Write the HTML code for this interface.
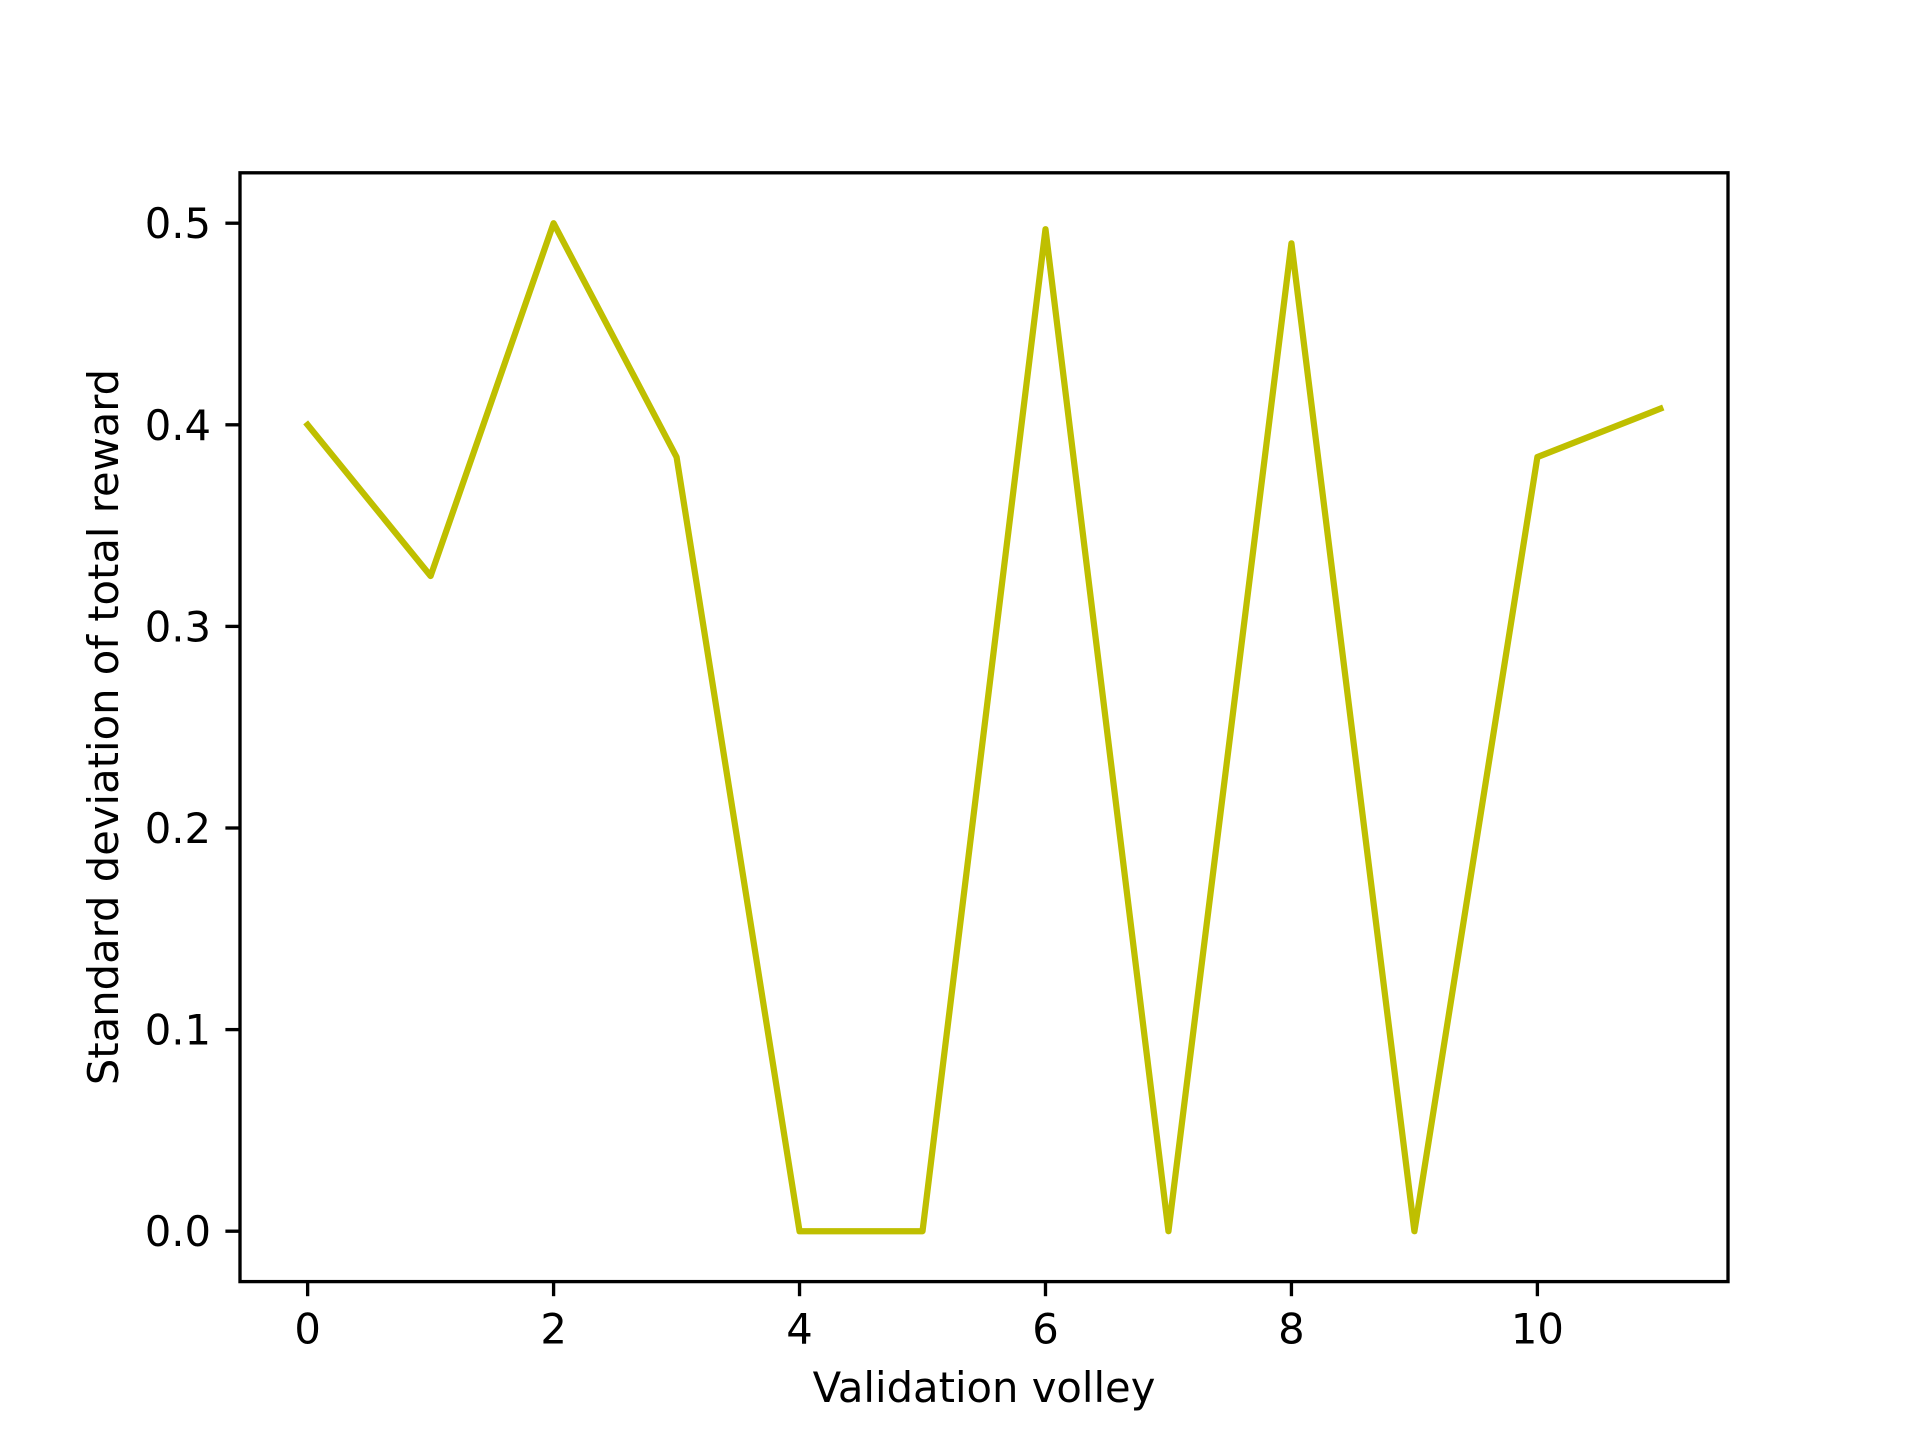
<!DOCTYPE html>
<html><head><meta charset="utf-8"><style>
html,body{margin:0;padding:0;background:#fff;}
svg{display:block;font-family:"DejaVu Sans","Liberation Sans",sans-serif;}
</style></head><body>
<svg id="chart" width="1920" height="1440" viewBox="0 0 1920 1440">
<rect x="0" y="0" width="1920" height="1440" fill="#fff"/>
<g id="ticks"></g>
<polyline id="series" fill="none" stroke="#bfbf00" stroke-width="6.25" stroke-linejoin="round" stroke-linecap="square"/>
<rect x="240" y="172.8" width="1488" height="1108.8" fill="none" stroke="#000" stroke-width="3.33"/>
<text x="984" y="1402" font-size="41.7" text-anchor="middle">Validation volley</text>
<text transform="translate(118,727) rotate(-90)" font-size="41.7" text-anchor="middle">Standard deviation of total reward</text>
</svg>
<script>
const volleys = [0,1,2,3,4,5,6,7,8,9,10,11];
const stdValues = [0.4,0.325,0.5,0.384,0,0,0.497,0,0.49,0,0.384,0.408];
const xTicks = [0,2,4,6,8,10];
const yTicks = [0,0.1,0.2,0.3,0.4,0.5];
const yTickLabels = ["0.0","0.1","0.2","0.3","0.4","0.5"];

const L=240,R=1728,T=172.8,B=1281.6;
const xMin=-0.55,xMax=11.55,yMin=-0.025,yMax=0.525;
function sx(v){return L+(v-xMin)/(xMax-xMin)*(R-L);}
function sy(v){return B-(v-yMin)/(yMax-yMin)*(B-T);}
const NS="http://www.w3.org/2000/svg";
const g=document.getElementById('ticks');
xTicks.forEach(t=>{
  const l=document.createElementNS(NS,'line');
  l.setAttribute('x1',sx(t));l.setAttribute('x2',sx(t));l.setAttribute('y1',B);l.setAttribute('y2',B+14.6);
  l.setAttribute('stroke','#000');l.setAttribute('stroke-width','3.33');
  
  
  g.appendChild(l);
  const tx=document.createElementNS(NS,'text');
  tx.setAttribute('x',sx(t));tx.setAttribute('y',B+62);tx.setAttribute('font-size','41.7');tx.setAttribute('text-anchor','middle');
  tx.textContent=String(t);
  
  
  g.appendChild(tx);
});
yTicks.forEach((t,i)=>{
  const l=document.createElementNS(NS,'line');
  l.setAttribute('x1',L-14.6);l.setAttribute('x2',L);l.setAttribute('y1',sy(t));l.setAttribute('y2',sy(t));
  l.setAttribute('stroke','#000');l.setAttribute('stroke-width','3.33');
  
  
  g.appendChild(l);
  const tx=document.createElementNS(NS,'text');
  tx.setAttribute('x',L-29);tx.setAttribute('y',sy(t)+15);tx.setAttribute('font-size','41.7');tx.setAttribute('text-anchor','end');
  tx.textContent=yTickLabels[i];
  
  
  g.appendChild(tx);
});
document.getElementById('series').setAttribute('points',volleys.map((v,i)=>sx(v)+','+sy(stdValues[i])).join(' '));
</script>
</body></html>
